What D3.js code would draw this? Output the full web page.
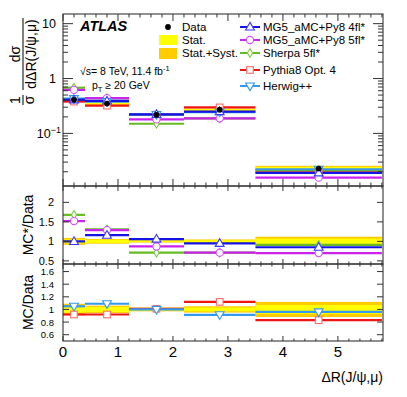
<!DOCTYPE html>
<meta charset="utf-8">
<style>
    body { margin: 0; background: #fff; }
    text { font-family: "Liberation Sans", Arial, Helvetica, sans-serif; fill: #000; }
</style>
<svg width="407" height="397"></svg>
<script src="https://d3js.org/d3.v7.min.js"></script>
<script>

    // bins of dR(J/psi, mu)
    var binEdges = [0, 0.4, 1.2, 2.2, 3.5, 5.8];
    var markerX = [0.2, 0.8, 1.7, 2.85, 4.65];

    // data, normalised cross section
    var dataVals = [0.41, 0.35, 0.218, 0.27, 0.0229];
    var statErr = [0.05, 0.04, 0.02, 0.03, 0.07];   // relative
    var totErr = [0.09, 0.06, 0.03, 0.05, 0.12];    // relative, stat+syst

    // MC predictions (main panel)
    var mg4Main = [0.41, 0.39, 0.222, 0.25, 0.0191];
    var mg5Main = [0.62, 0.44, 0.18, 0.188, 0.0156];
    var sherpaMain = [0.68, 0.44, 0.150, 0.188, 0.0214];
    var pythiaMain = [0.38, 0.32, 0.22, 0.298, 0.0196];
    var herwigMain = [0.43, 0.38, 0.22, 0.245, 0.0222];

    // MC / data ratios
    var mg4Ratio = [1.0, 1.16, 1.06, 0.95, 0.85];
    var mg5Ratio = [1.52, 1.29, 0.87, 0.71, 0.70];
    var sherpaRatio = [1.68, 1.31, 0.71, 0.71, 0.91];
    var pythiaRatio = [0.92, 0.92, 1.01, 1.12, 0.83];
    var herwigRatio = [1.05, 1.09, 1.0, 0.915, 0.96];

    var xTicks = [0, 1, 2, 3, 4, 5];
    var mainTicks = [0.1, 1, 10];
    var midTicks = [0.5, 1, 1.5, 2];
    var midLabels = ["0.5", "1", "1.5", "2"];
    var botTicks = [0.6, 0.8, 1, 1.2, 1.4, 1.6];
    var botLabels = ["0.6", "0.8", "1", "1.2", "1.4", "1.6"];

    var series = [
        {name: "MG5_aMC+Py8 4fl*", main: mg4Main, ratio: mg4Ratio, panel: "mid", line: "#1414e6", mk: "#3a3aff", shape: "tri"},
        {name: "MG5_aMC+Py8 5fl*", main: mg5Main, ratio: mg5Ratio, panel: "mid", line: "#cc22ee", mk: "#d84cff", shape: "circ"},
        {name: "Sherpa 5fl*", main: sherpaMain, ratio: sherpaRatio, panel: "mid", line: "#66bb22", mk: "#7ccc3a", shape: "diam"},
        {name: "Pythia8 Opt. 4", main: pythiaMain, ratio: pythiaRatio, panel: "bot", line: "#ee1515", mk: "#ff6a6a", shape: "sq"},
        {name: "Herwig++", main: herwigMain, ratio: herwigRatio, panel: "bot", line: "#3399ee", mk: "#3399ee", shape: "tridown"}
    ];
    var drawOrder = [3, 2, 1, 4, 0];

    var svg = d3.select("svg");
    var L = 63, R = 383;
    var mainTop = 14, mainBot = 186, midBot = 264, botBot = 341;

    var x = d3.scaleLinear().domain([0, 5.82]).range([L, R]);
    var yMain = d3.scaleLog().domain([0.011, 15]).range([mainBot, mainTop]);
    var yMid = d3.scaleLinear().domain([0.42, 2.42]).range([midBot, mainBot]);
    var yBot = d3.scaleLinear().domain([0.5, 1.72]).range([botBot, midBot]);

    function marker(g, shape, cx, cy, color) {
        var p;
        if (shape == "circ") {
            p = g.append("circle").attr("cx", cx).attr("cy", cy).attr("r", 3.6);
        } else if (shape == "sq") {
            p = g.append("rect").attr("x", cx - 3.3).attr("y", cy - 3.3).attr("width", 6.6).attr("height", 6.6);
        } else if (shape == "tri") {
            p = g.append("path").attr("d", d3.symbol(d3.symbolTriangle, 34)())
                .attr("transform", "translate(" + cx + "," + (cy + 0.5) + ")");
        } else if (shape == "tridown") {
            p = g.append("path").attr("d", d3.symbol(d3.symbolTriangle, 34)())
                .attr("transform", "translate(" + cx + "," + (cy - 0.5) + ") rotate(180)");
        } else {
            p = g.append("path").attr("d", "M0,-4.3L2.6,0L0,4.3L-2.6,0Z")
                .attr("transform", "translate(" + cx + "," + cy + ")");
        }
        p.attr("fill", "#fff").attr("stroke", color).attr("stroke-width", 1.1);
    }

    // error bands of the data
    function bands(g, y, centre) {
        [[totErr, "#ffcc00"], [statErr, "#ffff00"]].forEach(function (b) {
            g.selectAll(null).data(d3.range(5)).enter().append("rect")
                .attr("x", function (i) { return x(binEdges[i]); })
                .attr("width", function (i) { return x(binEdges[i + 1]) - x(binEdges[i]); })
                .attr("y", function (i) { return y(centre(i) * (1 + b[0][i])); })
                .attr("height", function (i) { return y(centre(i) * (1 - b[0][i])) - y(centre(i) * (1 + b[0][i])); })
                .attr("fill", b[1]);
        });
    }

    function mcLines(g, s, vals, y) {
        g.selectAll(null).data(d3.range(5)).enter().append("line")
            .attr("x1", function (i) { return x(binEdges[i]); })
            .attr("x2", function (i) { return x(binEdges[i + 1]); })
            .attr("y1", function (i) { return y(vals[i]); })
            .attr("y2", function (i) { return y(vals[i]); })
            .attr("stroke", s.line).attr("stroke-width", 2.2);
    }

    function clip(id, y0, y1) {
        svg.append("clipPath").attr("id", id).append("rect")
            .attr("x", L).attr("y", y0).attr("width", R - L).attr("height", y1 - y0);
    }
    clip("cMain", mainTop, mainBot);
    clip("cMid", mainBot, midBot);
    clip("cBot", midBot, botBot);

    // ---- main panel
    var gMain = svg.append("g").attr("clip-path", "url(#cMain)");
    bands(gMain, yMain, function (i) { return dataVals[i]; });
    drawOrder.forEach(function (k) { mcLines(gMain, series[k], series[k].main, yMain); });
    drawOrder.forEach(function (k) {
        var s = series[k];
        for (var i = 0; i < 5; i++) marker(gMain, s.shape, x(markerX[i]), yMain(s.main[i]), s.mk);
    });
    gMain.selectAll(null).data(dataVals).enter().append("circle")
        .attr("cx", function (d, i) { return x(markerX[i]); })
        .attr("cy", function (d) { return yMain(d); })
        .attr("r", 2.9).attr("fill", "#000");

    // ---- ratio panels
    var gMid = svg.append("g").attr("clip-path", "url(#cMid)");
    var gBot = svg.append("g").attr("clip-path", "url(#cBot)");
    bands(gMid, yMid, function () { return 1; });
    bands(gBot, yBot, function () { return 1; });
    drawOrder.forEach(function (k) {
        var s = series[k];
        var g = s.panel == "mid" ? gMid : gBot, y = s.panel == "mid" ? yMid : yBot;
        mcLines(g, s, s.ratio, y);
    });
    drawOrder.forEach(function (k) {
        var s = series[k];
        var g = s.panel == "mid" ? gMid : gBot, y = s.panel == "mid" ? yMid : yBot;
        for (var i = 0; i < 5; i++) marker(g, s.shape, x(markerX[i]), y(s.ratio[i]), s.mk);
    });

    // ---- frames and ticks
    var axisCol = "#333";
    function frame(y0, y1) {
        svg.append("rect").attr("x", L).attr("y", y0).attr("width", R - L).attr("height", y1 - y0)
            .attr("fill", "none").attr("stroke", axisCol).attr("stroke-width", 1.1);
    }
    frame(mainTop, mainBot);
    frame(mainBot, midBot);
    frame(midBot, botBot);

    function tick(x1, y1, x2, y2) {
        svg.append("line").attr("x1", x1).attr("y1", y1).attr("x2", x2).attr("y2", y2)
            .attr("stroke", axisCol).attr("stroke-width", 1);
    }
    var xMinor = d3.range(0, 5.81, 0.2);
    [[mainTop, mainBot], [mainBot, midBot], [midBot, botBot]].forEach(function (p, j) {
        xMinor.forEach(function (v) {
            var major = Math.abs(v - Math.round(v)) < 1e-6;
            var len = major ? (j == 0 ? 7 : 5) : (j == 0 ? 3.5 : 2.5);
            tick(x(v), p[1], x(v), p[1] - len);
            tick(x(v), p[0], x(v), p[0] + len);
        });
    });

    // log ticks on main y
    yMain.ticks().forEach(function (v) {
        var major = mainTicks.some(function (m) { return Math.abs(m - v) / m < 1e-6; });
        var len = major ? 10 : 5;
        tick(L, yMain(v), L + len, yMain(v));
        tick(R, yMain(v), R - len, yMain(v));
    });
    midTicks.forEach(function (v) {
        tick(L, yMid(v), L + 6, yMid(v));
        tick(R, yMid(v), R - 6, yMid(v));
    });
    botTicks.forEach(function (v) {
        tick(L, yBot(v), L + 6, yBot(v));
        tick(R, yBot(v), R - 6, yBot(v));
    });

    // ---- tick labels
    svg.append("text").attr("x", 56).attr("y", yMain(10) + 4.5).attr("text-anchor", "end")
        .style("font-size", "12.5px").text("10");
    svg.append("text").attr("x", 56).attr("y", yMain(1) + 4.5).attr("text-anchor", "end")
        .style("font-size", "12.5px").text("1");
    var t01 = svg.append("text").attr("x", 61).attr("y", yMain(0.1) + 4.5).attr("text-anchor", "end")
        .style("font-size", "12.5px");
    t01.append("tspan").text("10");
    t01.append("tspan").attr("dy", -5).style("font-size", "9px").text("\u22121");

    midTicks.forEach(function (v, i) {
        svg.append("text").attr("x", 54).attr("y", yMid(v) + 4).attr("text-anchor", "end")
            .style("font-size", "11px").text(midLabels[i]);
    });
    botTicks.forEach(function (v, i) {
        svg.append("text").attr("x", 54).attr("y", yBot(v) + 3.5).attr("text-anchor", "end")
            .style("font-size", "9.5px").text(botLabels[i]);
    });
    xTicks.forEach(function (v) {
        svg.append("text").attr("x", x(v)).attr("y", 357).attr("text-anchor", "middle")
            .style("font-size", "15px").text(v);
    });

    // ---- axis titles
    svg.append("text").attr("x", R).attr("y", 382).attr("text-anchor", "end")
        .style("font-size", "14px").text("\u0394R(J/\u03c8,\u03bc)");
    svg.append("text").attr("transform", "translate(33," + ((mainBot + midBot) / 2) + ") rotate(-90)")
        .attr("text-anchor", "middle").style("font-size", "14px").text("MC*/Data");
    svg.append("text").attr("transform", "translate(33," + ((midBot + botBot) / 2) + ") rotate(-90)")
        .attr("text-anchor", "middle").style("font-size", "14px").text("MC/Data");

    var yt = svg.append("g").attr("transform", "translate(23,100) rotate(-90)");
    yt.append("text").attr("x", 0).attr("y", -3).attr("text-anchor", "middle").style("font-size", "14px").text("1");
    yt.append("line").attr("x1", -5).attr("x2", 5).attr("y1", 0).attr("y2", 0).attr("stroke", "#000").attr("stroke-width", 1);
    yt.append("text").attr("x", 0).attr("y", 11).attr("text-anchor", "middle").style("font-size", "14px").text("\u03c3");
    yt.append("text").attr("x", 46).attr("y", -3).attr("text-anchor", "middle").style("font-size", "14px").text("d\u03c3");
    yt.append("line").attr("x1", 10).attr("x2", 82).attr("y1", 0).attr("y2", 0).attr("stroke", "#000").attr("stroke-width", 1);
    yt.append("text").attr("x", 46).attr("y", 13).attr("text-anchor", "middle").style("font-size", "14px").text("d\u0394R(J/\u03c8,\u03bc)");

    // ---- labels
    svg.append("text").attr("x", 80).attr("y", 31).style("font-size", "14.5px")
        .style("font-weight", "bold").style("font-style", "italic").text("ATLAS");
    var ts = svg.append("text").attr("x", 80).attr("y", 75).style("font-size", "10.5px");
    ts.append("tspan").text("\u221as= 8 TeV, 11.4 fb");
    ts.append("tspan").attr("dy", -4).style("font-size", "7.5px").text("-1");
    var tp = svg.append("text").attr("x", 92).attr("y", 89).style("font-size", "10.5px");
    tp.append("tspan").text("p");
    tp.append("tspan").attr("dy", 3).style("font-size", "7.5px").text("T");
    tp.append("tspan").attr("dy", -3).text(" \u2265 20 GeV");

    // ---- legend
    var lg = svg.append("g");
    lg.append("circle").attr("cx", 168).attr("cy", 27).attr("r", 2.9).attr("fill", "#000");
    lg.append("text").attr("x", 182).attr("y", 31).style("font-size", "11.5px").text("Data");
    lg.append("rect").attr("x", 159).attr("y", 35).attr("width", 18).attr("height", 10).attr("fill", "#ffff00");
    lg.append("text").attr("x", 182).attr("y", 44).style("font-size", "11.5px").text("Stat.");
    lg.append("rect").attr("x", 159).attr("y", 48).attr("width", 18).attr("height", 11).attr("fill", "#ffcc00");
    lg.append("text").attr("x", 182).attr("y", 57).style("font-size", "11.5px").text("Stat.+Syst.");

    var legY = [27, 40, 53, 70, 86];
    series.forEach(function (s, i) {
        lg.append("line").attr("x1", 240).attr("x2", 260).attr("y1", legY[i]).attr("y2", legY[i])
            .attr("stroke", s.line).attr("stroke-width", 2);
        marker(lg, s.shape, 250, legY[i], s.mk);
        lg.append("text").attr("x", 263).attr("y", legY[i] + 4).style("font-size", "11.5px").text(s.name);
    });

</script>
